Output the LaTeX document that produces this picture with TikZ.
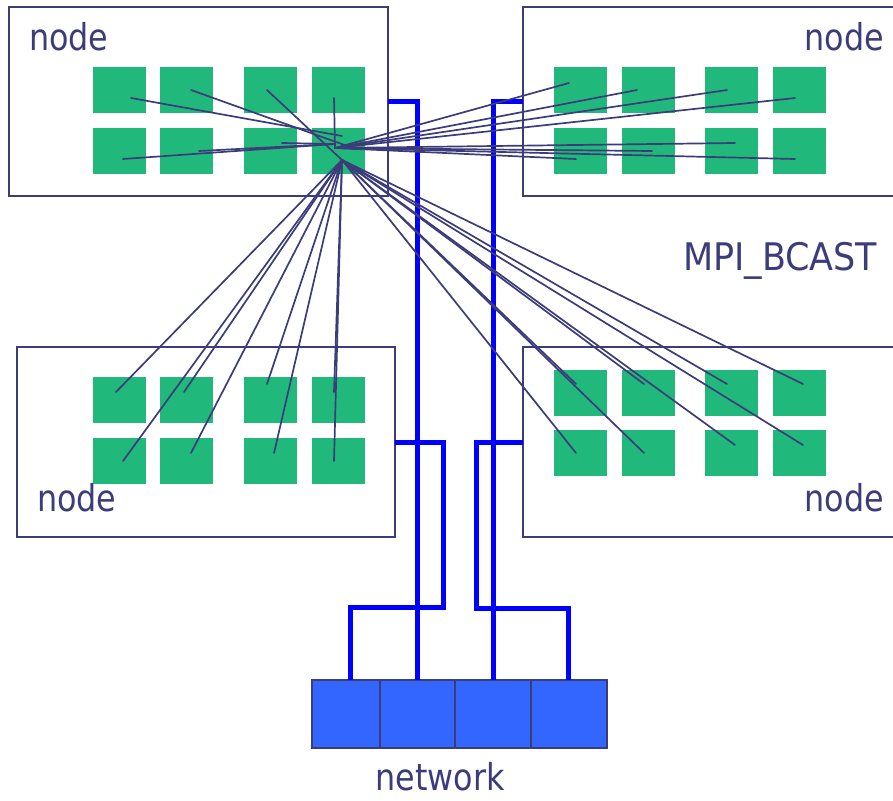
\documentclass[tikz,border=0pt]{standalone}
\usepackage{fontspec}
\newfontfamily\lblfont{DejaVu Sans}[FakeStretch=0.86]
\newfontfamily\widefont{DejaVu Sans}[FakeStretch=0.92]
\begin{document}
\begin{tikzpicture}[x=1pt,y=-1pt,
  every node/.style={inner sep=0pt, outer sep=0pt},
  box/.style={draw=navy, line width=1.6pt, fill=white, rectangle},
  cpu/.style={fill=cpugreen, rectangle, minimum width=53pt, minimum height=46pt},
  cell/.style={draw=navy, line width=1.6pt, fill=netblue, rectangle, minimum height=68pt},
  wire/.style={draw=wireblue, line width=5pt, line join=miter},
  msg/.style={draw=navy, line width=1.7pt, line cap=round},
  lbl/.style={text=navy, font=\lblfont\fontsize{37}{40}\selectfont},
  wlbl/.style={text=navy, font=\widefont\fontsize{38}{40}\selectfont}]
\definecolor{navy}{RGB}{60,60,122}
\definecolor{cpugreen}{RGB}{33,185,123}
\definecolor{netblue}{RGB}{51,102,255}
\definecolor{wireblue}{RGB}{0,0,255}

\useasboundingbox (0,0) rectangle (893,800);
\clip (0,0) rectangle (893,800);

% the four nodes
\node[box, minimum width=379pt, minimum height=189pt] (ntl) at (198.5,101.5) {};
\node[box, minimum width=380pt, minimum height=189pt] (ntr) at (713,101.5) {};
\node[box, minimum width=378pt, minimum height=190pt] (nbl) at (206,442) {};
\node[box, minimum width=380pt, minimum height=190pt] (nbr) at (713,442) {};

% processors
\foreach \i/\x in {1/119.5,2/186.5,3/270.5,4/338.5}{
  \node[cpu] (tla\i) at (\x,90) {};
  \node[cpu] (tlb\i) at (\x,151) {};
  \node[cpu] (bla\i) at (\x,400) {};
  \node[cpu] (blb\i) at (\x,461) {};
}
\foreach \i/\x in {1/580.5,2/648.5,3/731.5,4/799.5}{
  \node[cpu] (tra\i) at (\x,90) {};
  \node[cpu] (trb\i) at (\x,151) {};
  \node[cpu] (bra\i) at (\x,393) {};
  \node[cpu] (brb\i) at (\x,453) {};
}

% network switch
\node[cell, minimum width=68pt] (nw1) at (346,714) {};
\node[cell, minimum width=75pt] (nw2) at (417.5,714) {};
\node[cell, minimum width=76pt] (nw3) at (493,714) {};
\node[cell, minimum width=76pt] (nw4) at (569,714) {};

% network links
\draw[wire] (ntl.east |- 0,101) -| (nw2.north);
\draw[wire] (ntr.west |- 0,101) -| (nw3.north);
\draw[wire] (nbl.east |- 0,442) -- (443,442) -- (443,607) -| ([xshift=4pt]nw1.north);
\draw[wire] (nbr.west |- 0,442) -- (476,442) -- (476,608) -| ([xshift=-1pt]nw4.north);

% broadcast: root hubs
\coordinate (hubR) at (335,148);
\coordinate (hubD) at (342,160);

% messages inside the root node
\coordinate (m1) at (131,98);   \coordinate (e1) at (342,136);
\coordinate (m2) at (191,90);   \coordinate (e2) at (350,147);
\coordinate (m3) at (267,90);
\coordinate (m4) at (334,98);
\coordinate (m5) at (123,159);  \coordinate (e5) at (335,144);
\coordinate (m6) at (199,151);
\coordinate (m7) at (282,143);
\draw[msg] (m1) -- (e1);
\draw[msg] (m2) -- (e2);
\draw[msg] (m3) -- (hubD);
\draw[msg] (m4) -- (hubR);
\draw[msg] (m5) -- (e5);
\draw[msg] (m6) -- (e5);
\draw[msg] (m7) -- (e5);

% messages to the top right node
\foreach \n/\p in {r1/{569,83},r2/{637,90},r3/{727,90},r4/{795,98},
                   r5/{735,143},r6/{652,151},r7/{576,159},r8/{795,159}}{
  \coordinate (\n) at (\p);
  \draw[msg] (hubR) -- (\n);
}

% messages to the bottom nodes
\foreach \n/\p in {b1/{116,392},b2/{184,392},b3/{267,384},b4/{334,392},
                   b5/{123,461},b6/{191,453},b7/{274,453},b8/{334,461},
                   c1/{576,384},c2/{644,384},c3/{727,384},c4/{803,384},
                   c5/{576,453},c6/{644,453},c7/{735,445},c8/{803,445}}{
  \coordinate (\n) at (\p);
  \draw[msg] (hubD) -- (\n);
}

% labels
\node[lbl, anchor=base west] (ltl) at (29,50) {node};
\node[lbl, anchor=base east] (ltr) at (884,50) {node};
\node[lbl, anchor=base west] (lbl) at (37,511) {node};
\node[lbl, anchor=base east] (lbr) at (884,511) {node};
\node[wlbl, anchor=base west] (lmpi) at (683,270) {MPI\_BCAST};
\node[lbl, anchor=base] (lnet) at (440,790) {network};
\end{tikzpicture}
\end{document}
